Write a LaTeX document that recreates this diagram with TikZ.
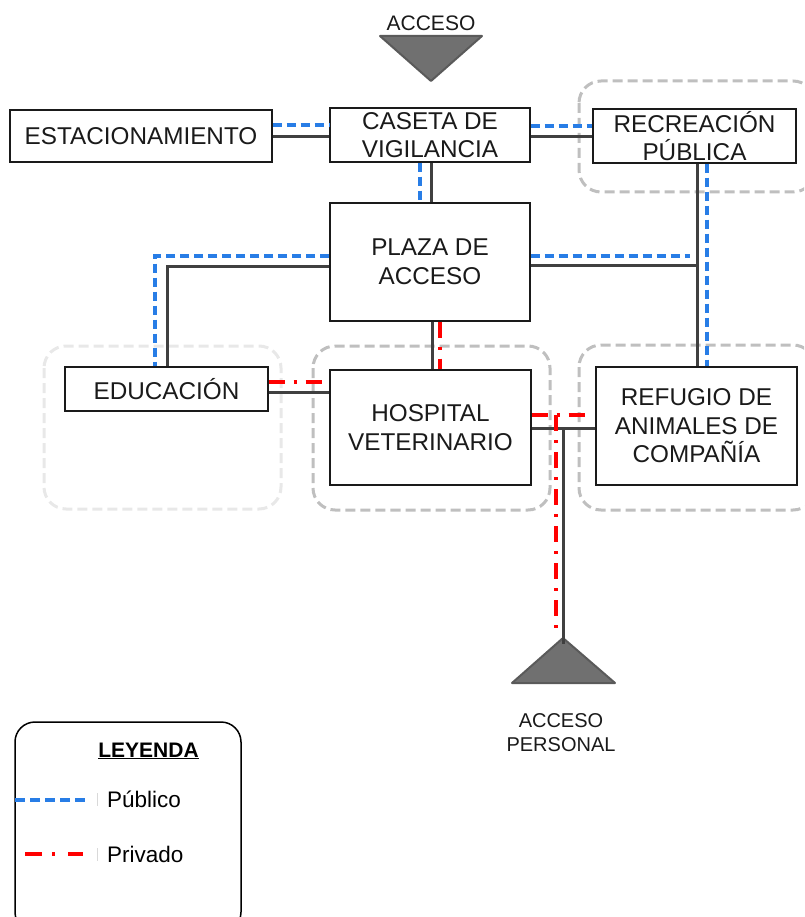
\documentclass[tikz,border=0pt]{standalone}
\usepackage{fontspec}
\setmainfont{Liberation Sans}
\definecolor{dk}{HTML}{404040}
\definecolor{pub}{RGB}{40,125,230}
\definecolor{prv}{RGB}{255,0,0}
\definecolor{reg}{HTML}{BFBFBF}
\definecolor{regl}{HTML}{E8E8E8}
\definecolor{trif}{HTML}{707070}
\definecolor{trid}{HTML}{5A5A5A}
\definecolor{txt}{HTML}{1A1A1A}
\begin{document}
\begin{tikzpicture}[x=1pt,y=-1pt,
  box/.style={draw=txt, line width=1.4pt, fill=white, inner sep=0pt, align=center, text=txt,
              font=\fontsize{24.3}{28.5}\selectfont},
  region/.style={draw=reg, line width=3pt, dash pattern=on 10pt off 5pt, rounded corners=22pt},
  regionlight/.style={draw=regl, line width=3pt, dash pattern=on 10pt off 5pt, rounded corners=22pt},
  darkline/.style={draw=dk, line width=3pt},
  publine/.style={draw=pub, line width=3.5pt, dash pattern=on 9pt off 5pt},
  prvline/.style={draw=prv, line width=4pt, dash pattern=on 16pt off 9pt on 3pt off 9pt},
  arrowtri/.style={fill=trif, draw=trid, line width=2pt, line join=round}]
\path[use as bounding box] (0,0) rectangle (804,917);
\clip (0,0) rectangle (804,917);

% zones
\draw[region] (579,81) rectangle (815,192);
\draw[regionlight] (44,346) rectangle (281,509);
\draw[region] (313,346) rectangle (550,510);
\draw[region] (579,345) rectangle (815,510);

% access triangles
\draw[arrowtri] (380,36) -- (482,36) -- (431,81) -- cycle;
\node[font=\fontsize{21}{25}\selectfont, text=txt, anchor=base] (acct) at (431,31) {ACCESO};
\draw[arrowtri] (563,638) -- (615,683) -- (512,683) -- cycle;
\coordinate (apex) at (563,638);
\coordinate (apexr) at (556,635);
\node[font=\fontsize{20}{24.5}\selectfont, text=txt, align=center] (acpt) at (561,732.5) {ACCESO\\PERSONAL};

% boxes
\node[box, minimum width=262pt, minimum height=52pt] (est) at (141,136) {ESTACIONAMIENTO};
\node[box, minimum width=200pt, minimum height=54pt] (cas) at (430,135) {CASETA DE\\VIGILANCIA};
\node[box, minimum width=203pt, minimum height=54pt] (rec) at (694.5,136) {RECREACIÓN\\PÚBLICA};
\node[box, minimum width=200pt, minimum height=118pt] (plz) at (430,262) {PLAZA DE\\ACCESO};
\node[box, minimum width=203pt, minimum height=44pt] (edu) at (166.5,389) {EDUCACIÓN};
\node[box, minimum width=201pt, minimum height=115pt] (hos) at (430.5,427.5) {HOSPITAL\\VETERINARIO};
\node[box, minimum width=201pt, minimum height=118pt] (ref) at (696.5,426) {REFUGIO DE\\ANIMALES DE\\COMPAÑÍA};

% dark (general) connectors
\draw[darkline] (est.east |- 0,137) -- (cas.west |- 0,137);
\draw[darkline] (cas.east |- 0,137) -- (rec.west |- 0,137);
\draw[darkline] (cas.south -| 431,0) -- (plz.north -| 431,0);
\draw[darkline] (plz.west |- 0,266) -| (edu.north -| 167,0);
\draw[darkline] (plz.east |- 0,265) -- (697,265);
\draw[darkline] (rec.south -| 697,0) -- (ref.north -| 697,0);
\draw[darkline] (plz.south -| 432,0) -- (hos.north -| 432,0);
\draw[darkline] (edu.east |- 0,392) -- (hos.west |- 0,392);
\draw[darkline] (hos.east |- 0,428) -- (ref.west |- 0,428);
\draw[darkline] (apex |- 0,428) -- ([yshift=-6pt]apex);

% public connectors
\draw[publine] (est.east |- 0,125) -- (cas.west |- 0,125);
\draw[publine] (cas.east |- 0,126) -- (rec.west |- 0,126);
\draw[publine] (cas.south -| 420,0) -- (plz.north -| 420,0);
\draw[publine] (plz.west |- 0,256) -| (edu.north -| 155,0);
\draw[publine] (plz.east |- 0,256) -- (690,256);
\draw[publine] (rec.south -| 707,0) -- (ref.north -| 707,0);

% private connectors
\draw[prvline] (plz.south -| 440,0) -- (hos.north -| 440,0);
\draw[prvline] (edu.east |- 0,382) -- (hos.west |- 0,382);
\draw[prvline] (hos.east |- 0,415) -- (590,415);
\draw[prvline] (apexr |- 0,415) -- (apexr);

% legend
\node[draw=black, line width=1.5pt, rounded corners=20pt, minimum width=226pt, minimum height=210pt, inner sep=0pt] (legbox) at (128,827) {};
\node[font=\fontsize{21}{25}\selectfont\bfseries, text=black, anchor=base] (legt) at (148.5,757) {\underline{LEYENDA}};
\draw[draw=pub, line width=3.5pt, dash pattern=on 10pt off 5pt] (15,800) -- (87,800);
\draw[draw=prv, line width=4pt, dash pattern=on 17pt off 10pt on 3pt off 13pt] (25,854) -- (83,854);
\draw[draw=black!15, line width=1pt] (97,793) -- (97,806);
\draw[draw=black!15, line width=1pt] (97,848) -- (97,861);
\node[font=\fontsize{22.5}{26}\selectfont, anchor=base west, inner sep=0pt] (lpub) at (107,807) {Público};
\node[font=\fontsize{22.5}{26}\selectfont, anchor=base west, inner sep=0pt] (lprv) at (107,862) {Privado};
\end{tikzpicture}
\end{document}
